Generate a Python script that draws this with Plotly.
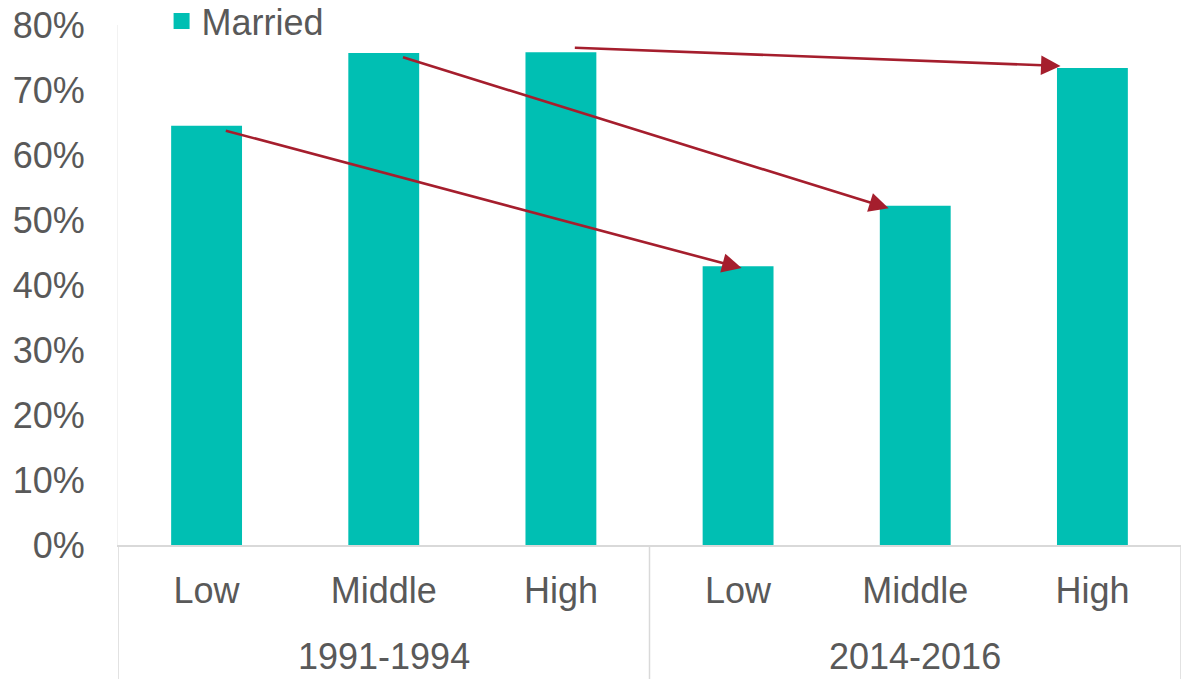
import plotly.graph_objects as go

# Share of adults who are married, by income tier and period
periods = ["1991-1994", "2014-2016"]
tiers = ["Low", "Middle", "High", "Low", "Middle", "High"]
married = [0.645, 0.757, 0.758, 0.429, 0.522, 0.734]

# Arrows linking each tier's earlier value to its later value (slot index, share)
arrow_from_idx = [0.1, 1.1, 2.07]
arrow_from_val = [0.638, 0.751, 0.765]
arrow_to_idx = [3.02, 3.85, 4.82]
arrow_to_val = [0.426, 0.518, 0.737]

TEAL = "#00BFB3"
ARROW = "#A51E2D"
TEXT = "#595959"
BOX = "#D9D9D9"
FONT = "Liberation Sans, Arial, sans-serif"
FS = 36

slots = list(range(len(tiers)))
per_group = len(tiers) // len(periods)

fig = go.Figure()

fig.add_trace(go.Bar(
    x=slots,
    y=married,
    width=0.4,
    marker=dict(color=TEAL, line=dict(width=0)),
    showlegend=False,
    hoverinfo="skip",
))

# Legend entry drawn as a square swatch
fig.add_trace(go.Scatter(
    x=[None], y=[None], mode="markers", name="Married",
    marker=dict(symbol="square", size=20, color=TEAL),
))

for x0, y0, x1, y1 in zip(arrow_from_idx, arrow_from_val, arrow_to_idx, arrow_to_val):
    fig.add_annotation(
        x=x1, y=y1, ax=x0, ay=y0,
        xref="x", yref="y", axref="x", ayref="y",
        showarrow=True, arrowhead=2, arrowsize=1.5, arrowwidth=2.6,
        arrowcolor=ARROW, text="",
    )

# Period labels under each group of tiers
for g, label in enumerate(periods):
    fig.add_annotation(
        x=g * per_group + (per_group - 1) / 2, y=-0.215,
        xref="x", yref="paper", yanchor="middle",
        text=label, showarrow=False,
        font=dict(family=FONT, size=FS, color=TEXT),
    )

# Group boxes below the axis
for b in range(len(periods) + 1):
    fig.add_shape(
        type="line", xref="x", yref="paper",
        x0=b * per_group - 0.5, x1=b * per_group - 0.5, y0=0, y1=-0.26,
        line=dict(color=BOX, width=1.5),
    )

fig.update_layout(
    width=1185, height=679,
    margin=dict(l=118, r=4, t=25, b=134, autoexpand=False),
    paper_bgcolor="white", plot_bgcolor="white",
    font=dict(family=FONT, size=FS, color=TEXT),
    showlegend=True,
    legend=dict(
        orientation="h", x=0.041, y=1 - 21 / 679, xanchor="left", yanchor="middle",
        xref="paper", yref="container",
        font=dict(size=FS, color=TEXT), bgcolor="rgba(0,0,0,0)",
    ),
    xaxis=dict(
        range=[-0.5, len(tiers) - 0.5],
        tickvals=slots, ticktext=tiers,
        showline=True, linecolor=BOX, linewidth=1.5,
        tickfont=dict(size=FS, color=TEXT),
        showgrid=False, zeroline=False, ticks="", ticklabelstandoff=13,
    ),
    yaxis=dict(
        range=[0, 0.8], dtick=0.1, tickformat=".0%",
        showgrid=False, zeroline=False,
        showline=True, linecolor="#F2F2F2", linewidth=1,
        tickfont=dict(size=FS, color=TEXT), ticks="", ticklabelstandoff=25,
    ),
)

fig.write_html("out.html")
